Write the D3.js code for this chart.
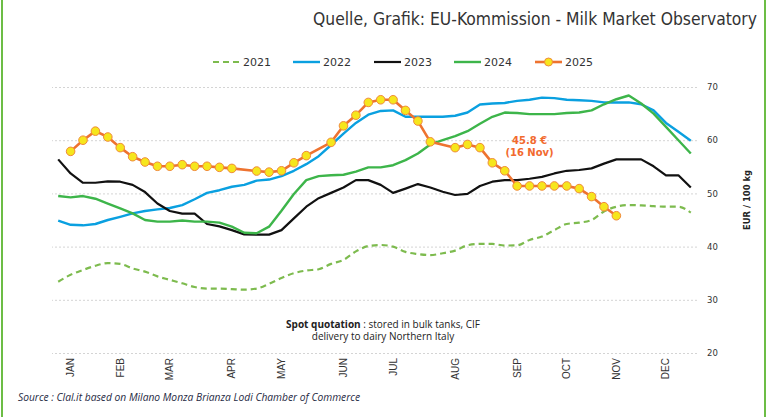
<!DOCTYPE html>
<html>
<head>
<meta charset="utf-8">
<script src="https://cdn.jsdelivr.net/npm/d3@7"></script>
<style>
  body { margin: 0; background: #fff; }
  svg { display: block; }
</style>
</head>
<body>
<script>
// Weekly spot milk prices, EUR / 100 kg (52 weeks per year)
const weeks = d3.range(52);

const monthNames = ["JAN", "FEB", "MAR", "APR", "MAY", "JUN", "JUL", "AUG", "SEP", "OCT", "NOV", "DEC"];
const monthWeeks = [1, 5, 9, 14, 18, 23, 27, 32, 37, 41, 45, 49];
const yTicks = [20, 30, 40, 50, 60, 70];

const p2021 = [33.4, 34.7, 35.6, 36.4, 36.9, 36.75, 35.9, 35.3, 34.4, 33.75, 33.1, 32.4, 32.1,
  32.1, 32.0, 31.9, 32.1, 33.0, 34.1, 35.0, 35.5, 35.75, 36.75, 37.5, 39.1, 40.1,
  40.3, 40.0, 39.0, 38.6, 38.4, 38.75, 39.25, 40.25, 40.5, 40.5, 40.2, 40.25, 41.25,
  41.9, 43.1, 44.25, 44.5, 45.0, 46.6, 47.5, 47.8, 47.75, 47.6, 47.5, 47.5, 46.4];

const p2022 = [44.9, 44.1, 44.0, 44.25, 45.0, 45.6, 46.25, 46.7, 47.0, 47.25, 47.8, 48.9, 50.1,
  50.6, 51.25, 51.6, 52.4, 52.6, 53.25, 54.25, 55.5, 57.0, 59.1, 61.25, 63.25, 64.8,
  65.5, 65.6, 64.4, 64.4, 64.4, 64.4, 64.6, 65.2, 66.7, 66.9, 67.0, 67.4, 67.6,
  68.0, 67.9, 67.6, 67.5, 67.4, 67.1, 67.1, 67.1, 66.75, 65.6, 63.25, 61.6, 59.9];

const p2023 = [56.4, 53.75, 52.0, 52.0, 52.25, 52.2, 51.6, 50.25, 48.1, 46.7, 46.2, 46.2, 44.25,
  43.8, 43.1, 42.3, 42.25, 42.25, 43.1, 45.3, 47.5, 49.1, 50.1, 51.1, 52.5, 52.5,
  51.6, 50.1, 50.9, 51.75, 51.1, 50.3, 49.7, 49.9, 51.4, 52.2, 52.5, 52.5, 52.75,
  53.1, 53.75, 54.25, 54.4, 54.7, 55.6, 56.4, 56.4, 56.4, 55.1, 53.4, 53.4, 51.1];

const p2024 = [49.5, 49.25, 49.5, 49.0, 48.1, 47.2, 46.25, 45.0, 44.7, 44.7, 44.9, 44.7, 44.7,
  44.5, 43.75, 42.6, 42.5, 43.75, 46.75, 49.9, 52.5, 53.25, 53.4, 53.5, 54.1, 54.9,
  54.9, 55.3, 56.25, 57.5, 59.2, 60.0, 60.75, 61.7, 63.1, 64.4, 65.2, 65.1, 64.9,
  64.9, 64.9, 65.1, 65.2, 65.6, 66.75, 67.7, 68.4, 66.9, 65.0, 62.5, 60.0, 57.5];

// null = no quotation that week (line runs straight through)
const p2025 = [null, 57.9, 60.0, 61.7, 60.6, 58.6, 56.9, 55.9, 55.1, 55.1, 55.4, 55.1, 55.1,
  54.9, 54.7, null, 54.2, 54.0, 54.25, 55.75, 57.1, null, 59.6, 62.7, 64.7, 67.1,
  67.6, 67.6, 65.6, 63.6, 59.7, null, 58.6, 59.2, 58.6, 55.75, 54.25, 51.4, 51.4,
  51.4, 51.4, 51.4, 50.9, 49.4, 47.5, 45.8];

const lastLabel = ["45.8 €", "(16 Nov)"];

const W = 772, H = 417;
const plot = { left: 52, right: 697, top: 87, bottom: 353 };

const svg = d3.select("body").append("svg")
  .attr("width", W)
  .attr("height", H);

// green frame lines left/right
svg.append("line").attr("x1", 2).attr("x2", 2).attr("y1", 0).attr("y2", H)
  .attr("stroke", "#6cbd45").attr("stroke-width", 2);
svg.append("line").attr("x1", 765).attr("x2", 765).attr("y1", 0).attr("y2", H)
  .attr("stroke", "#6cbd45").attr("stroke-width", 2);

// header
svg.append("text")
  .attr("x", 757).attr("y", 25)
  .attr("text-anchor", "end")
  .attr("textLength", 444)
  .attr("lengthAdjust", "spacingAndGlyphs")
  .style("font-family", "'Liberation Sans Narrow', 'DejaVu Sans Condensed', sans-serif")
  .style("font-size", "18px")
  .style("fill", "#333")
  .text("Quelle, Grafik: EU-Kommission  - Milk Market Observatory");

// scales
const x = d3.scaleBand().domain(weeks).range([plot.left, plot.right]).padding(0);
const cx = i => x(i) + x.bandwidth() / 2;
const y = d3.scaleLinear().domain([20, 70]).range([plot.bottom, plot.top]);

// y axis on the right with dotted grid
const yAxis = svg.append("g")
  .attr("transform", `translate(${plot.right},0)`)
  .call(d3.axisRight(y).tickValues(yTicks).tickSizeInner(-(plot.right - plot.left)).tickSizeOuter(0).tickPadding(10));
yAxis.select(".domain").remove();
yAxis.selectAll(".tick line")
  .attr("stroke", "#d4d4d4")
  .attr("stroke-dasharray", "2,2");
yAxis.selectAll(".tick text")
  .style("font-family", "'DejaVu Sans', sans-serif")
  .style("font-size", "8.5px")
  .style("fill", "#333");

// axis title
svg.append("text")
  .attr("transform", "translate(750,200) rotate(-90)")
  .attr("text-anchor", "middle")
  .attr("textLength", 60)
  .attr("lengthAdjust", "spacingAndGlyphs")
  .style("font-family", "'DejaVu Sans', sans-serif")
  .style("font-size", "9px")
  .style("font-weight", "bold")
  .style("fill", "#222")
  .text("EUR / 100 kg");

// month labels
const xAxis = svg.append("g")
  .attr("transform", `translate(0,${plot.bottom})`)
  .call(d3.axisBottom(x).tickValues(monthWeeks).tickFormat((d, i) => monthNames[i]).tickSize(0));
xAxis.select(".domain").remove();
xAxis.selectAll(".tick text")
  .attr("transform", "rotate(-90)")
  .attr("x", -5).attr("y", 0).attr("dy", "0.35em")
  .attr("text-anchor", "end")
  .style("font-family", "'Liberation Sans', sans-serif")
  .style("font-size", "10px")
  .style("fill", "#333");

// series
const series = [
  { name: "2021", values: p2021, color: "#7dbb4e", dash: "6,4", width: 2.2, curve: d3.curveMonotoneX },
  { name: "2022", values: p2022, color: "#0aa0e0", dash: null, width: 2.4, curve: d3.curveLinear },
  { name: "2023", values: p2023, color: "#111111", dash: null, width: 2.2, curve: d3.curveLinear },
  { name: "2024", values: p2024, color: "#3db54a", dash: null, width: 2.4, curve: d3.curveLinear },
  { name: "2025", values: p2025, color: "#ee7330", dash: null, width: 2.6, curve: d3.curveLinear }
];

series.forEach(s => {
  const pts = s.values.map((v, i) => ({ i, v })).filter(d => d.v != null);
  const line = d3.line().x(d => cx(d.i)).y(d => y(d.v)).curve(s.curve);
  svg.append("path")
    .datum(pts)
    .attr("d", line)
    .attr("fill", "none")
    .attr("stroke", s.color)
    .attr("stroke-width", s.width)
    .attr("stroke-linejoin", "round")
    .attr("stroke-dasharray", s.dash);
});

// 2025 markers
const pts2025 = p2025.map((v, i) => ({ i, v })).filter(d => d.v != null);
svg.append("g").selectAll("circle")
  .data(pts2025)
  .join("circle")
  .attr("cx", d => cx(d.i))
  .attr("cy", d => y(d.v))
  .attr("r", 4.3)
  .attr("fill", "#f6e61c")
  .attr("stroke", "#f08a3a")
  .attr("stroke-width", 1);

// annotation of last value
const ann = svg.append("text")
  .attr("text-anchor", "middle")
  .style("font-family", "'DejaVu Sans', sans-serif")
  .style("font-size", "10px")
  .style("font-weight", "bold")
  .style("fill", "#f26a2e");
lastLabel.forEach((t, k) => {
  ann.append("tspan")
    .attr("x", cx(38))
    .attr("y", y(60) + 3.5 + k * 12)
    .text(t);
});

// note
const note = svg.append("text")
  .attr("text-anchor", "middle")
  .style("font-family", "'Open Sans', sans-serif")
  .style("font-size", "10px")
  .style("fill", "#222");
const l1 = note.append("tspan").attr("x", 383).attr("y", 328);
l1.append("tspan").style("font-weight", "bold").text("Spot quotation");
l1.append("tspan").text(" : stored in bulk tanks, CIF");
note.append("tspan").attr("x", 383).attr("y", 340).text("delivery to dairy Northern Italy");

// legend
const legend = svg.append("g").attr("transform", "translate(213,62)");
const legendX = [0, 80, 161, 241, 322];
series.forEach((s, k) => {
  const g = legend.append("g").attr("transform", `translate(${legendX[k]},0)`);
  g.append("line")
    .attr("x1", 0).attr("x2", 27).attr("y1", 0).attr("y2", 0)
    .attr("stroke", s.color)
    .attr("stroke-width", s.width)
    .attr("stroke-dasharray", s.dash);
  if (s.name === "2025") {
    g.append("circle").attr("cx", 13.5).attr("cy", 0).attr("r", 4)
      .attr("fill", "#f6e61c").attr("stroke", "#f08a3a");
  }
  g.append("text")
    .attr("x", 30).attr("y", 0).attr("dy", "0.36em")
    .style("font-family", "'DejaVu Sans', sans-serif")
    .style("font-size", "11px")
    .style("fill", "#333")
    .text(s.name);
});

// source
svg.append("text")
  .attr("x", 18).attr("y", 401)
  .attr("textLength", 342)
  .attr("lengthAdjust", "spacingAndGlyphs")
  .style("font-family", "'Open Sans', sans-serif")
  .style("font-size", "10px")
  .style("font-style", "italic")
  .style("fill", "#1f2a44")
  .text("Source : Clal.it based on Milano Monza Brianza Lodi Chamber of Commerce");
</script>
</body>
</html>
